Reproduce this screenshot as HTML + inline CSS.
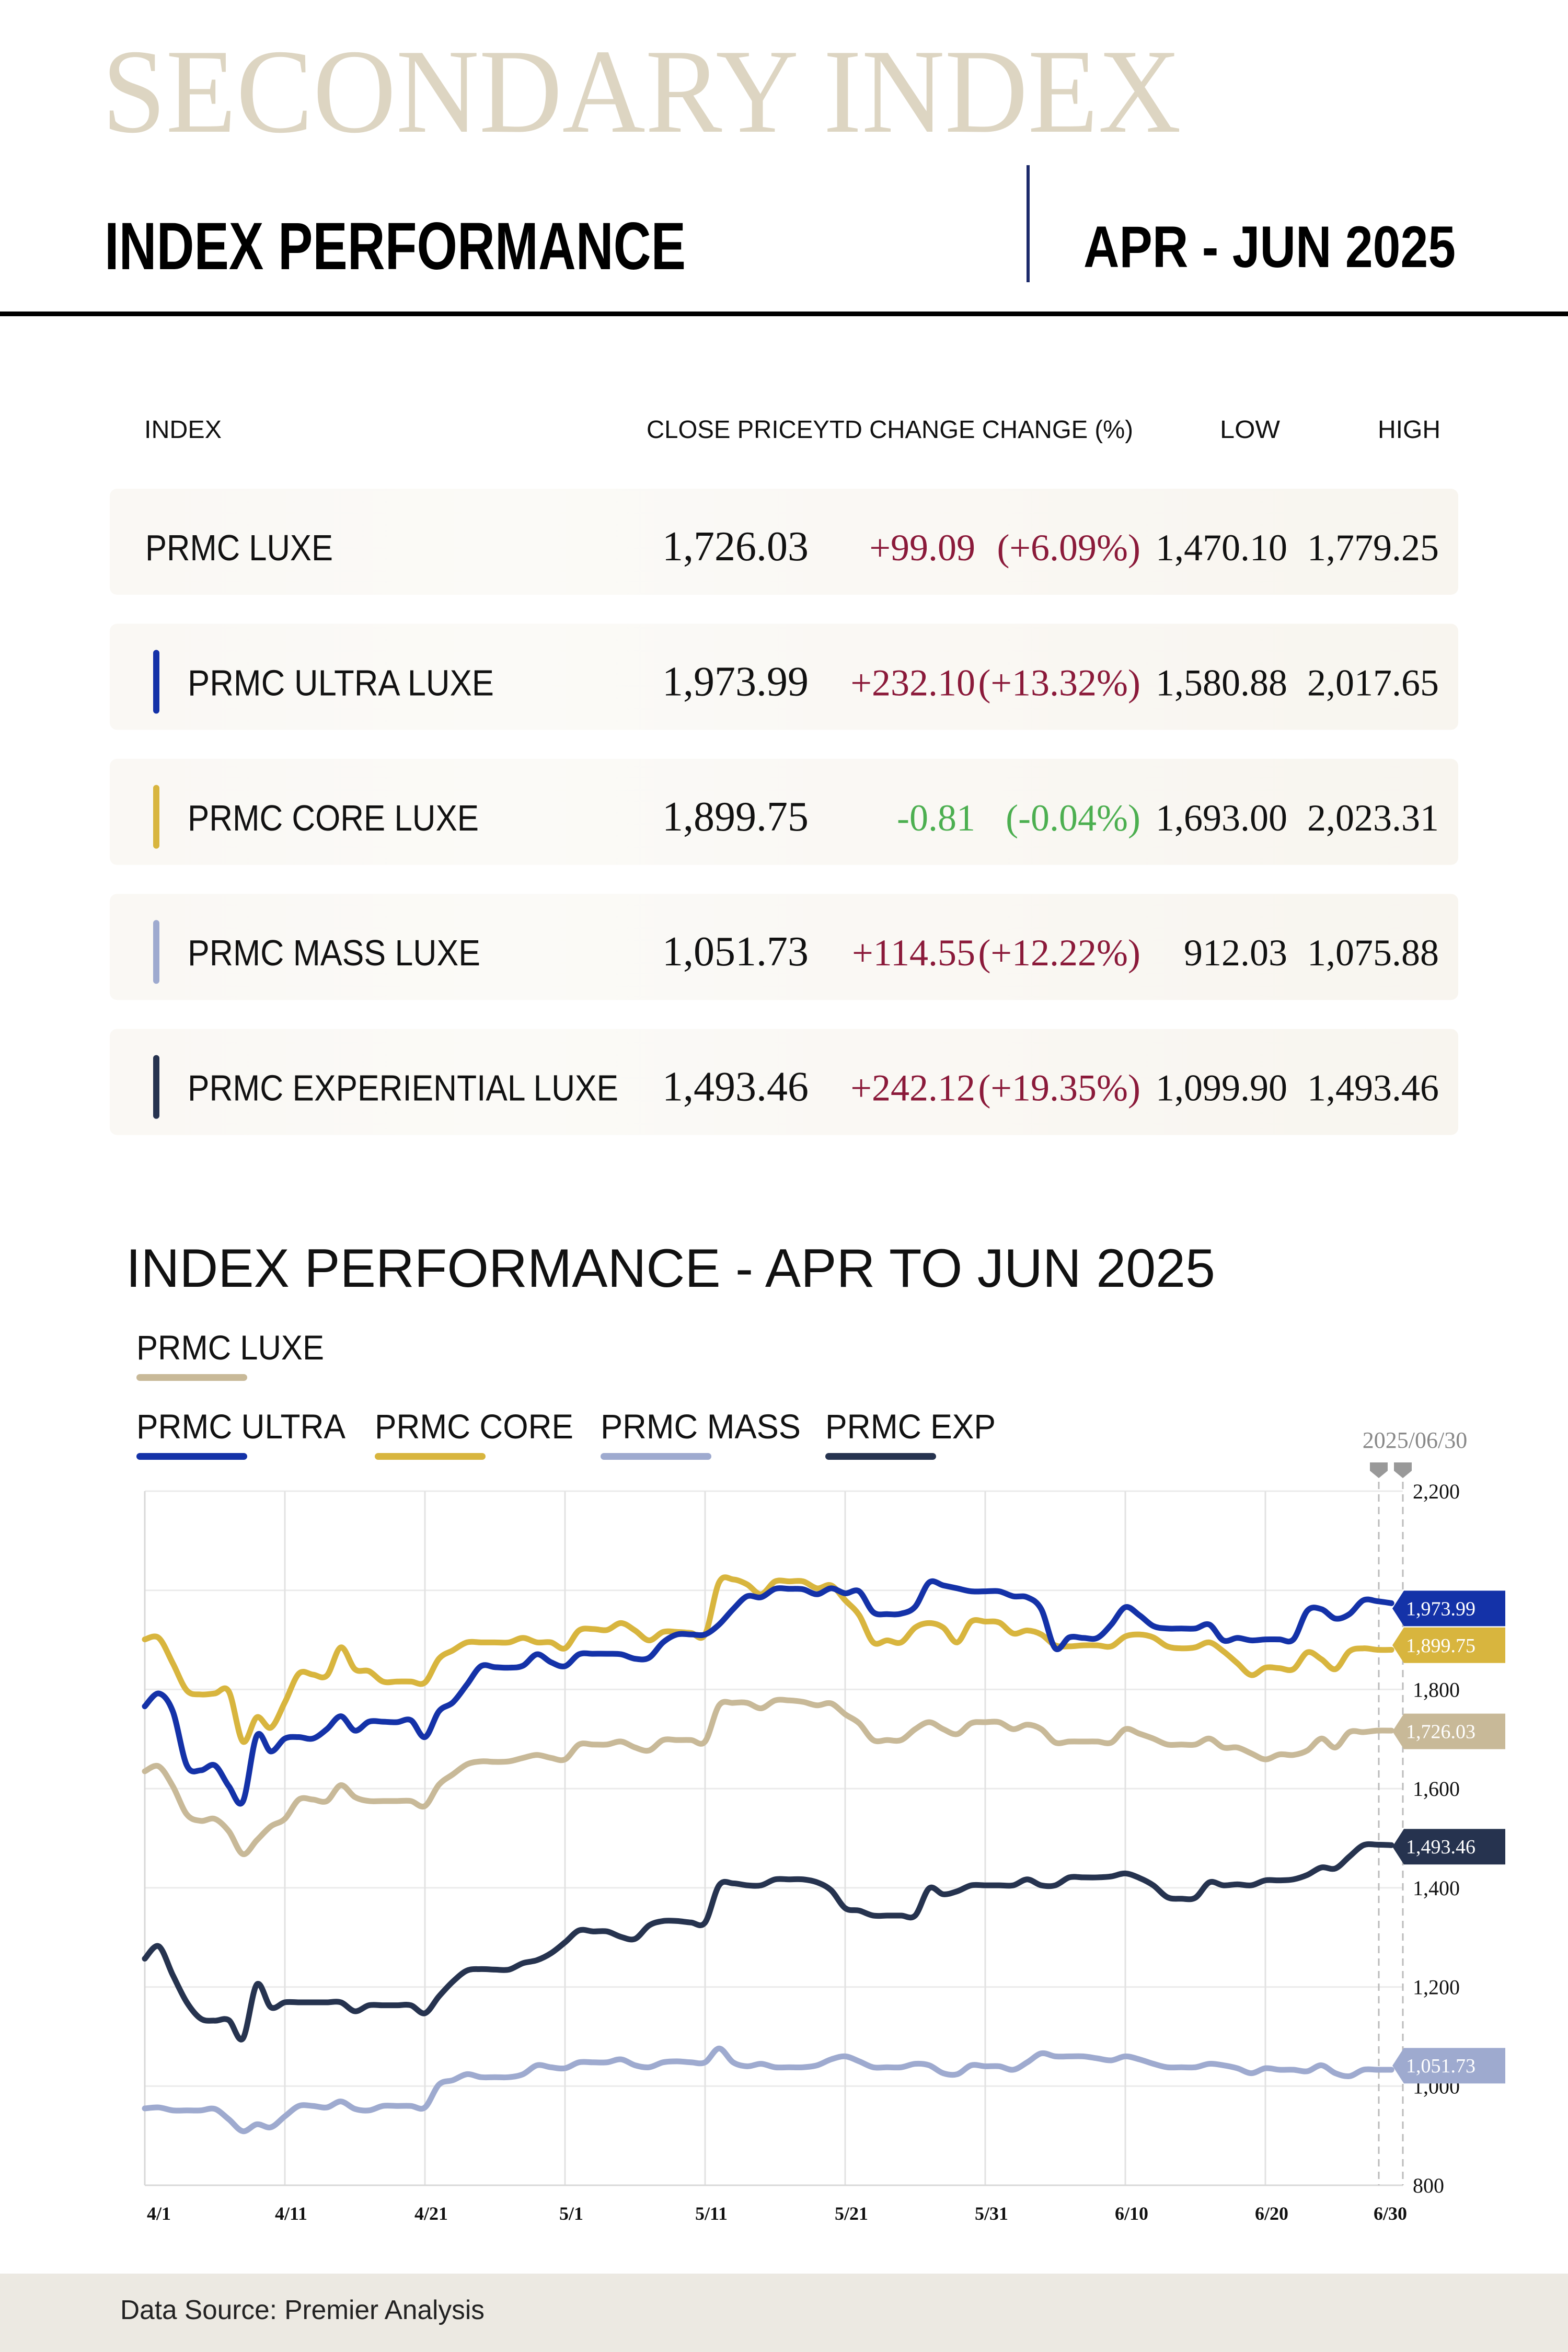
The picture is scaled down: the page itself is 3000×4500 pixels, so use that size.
<!DOCTYPE html>
<html><head><meta charset="utf-8"><style>
html,body{margin:0;padding:0;background:#fff;}
svg{display:block;}
.sans{font-family:"Liberation Sans",sans-serif;}
.serif{font-family:"Liberation Serif",serif;}
</style></head><body>
<svg id="page" width="3000" height="4500" viewBox="0 0 3000 4500" xmlns="http://www.w3.org/2000/svg">
<defs>
<linearGradient id="rowbg" x1="0" x2="1" y1="0" y2="0"><stop offset="0" stop-color="#faf8f4"/><stop offset="0.3" stop-color="#fbfaf7"/><stop offset="1" stop-color="#f8f5ef"/></linearGradient>
</defs>
<text class="serif" x="195" y="252" font-size="230" fill="#ddd5c2" textLength="2065" lengthAdjust="spacingAndGlyphs">SECONDARY INDEX</text>
<text class="sans" x="200" y="515" font-size="128" font-weight="bold" fill="#000" textLength="1112" lengthAdjust="spacingAndGlyphs">INDEX PERFORMANCE</text>
<rect x="1964" y="316" width="6" height="224" fill="#1c2a6b"/>
<text class="sans" x="2073" y="511" font-size="112" font-weight="bold" fill="#000" textLength="712" lengthAdjust="spacingAndGlyphs">APR - JUN 2025</text>
<rect x="0" y="596" width="3000" height="9" fill="#000"/>

<g class="sans" font-size="48" fill="#111">
<text x="276" y="838" textLength="148" lengthAdjust="spacingAndGlyphs">INDEX</text>
<text x="1237" y="838" textLength="931" lengthAdjust="spacingAndGlyphs">CLOSE PRICEYTD CHANGE CHANGE (%)</text>
<text x="2334" y="838" textLength="115" lengthAdjust="spacingAndGlyphs">LOW</text>
<text x="2636" y="838" textLength="120" lengthAdjust="spacingAndGlyphs">HIGH</text>
</g>
<g id="table"></g>

<text class="sans" x="241" y="2462" font-size="104" fill="#111" textLength="2084" lengthAdjust="spacingAndGlyphs">INDEX PERFORMANCE - APR TO JUN 2025</text>
<g id="legend"></g>
<g id="chart"></g>

<rect x="0" y="4350" width="3000" height="150" fill="#ece9e2"/>
<text class="sans" x="230" y="4437" font-size="52" fill="#222" textLength="697" lengthAdjust="spacingAndGlyphs">Data Source: Premier Analysis</text>
</svg>
<script>
// ---- table data ----
const rowNames = ["PRMC LUXE","PRMC ULTRA LUXE","PRMC CORE LUXE","PRMC MASS LUXE","PRMC EXPERIENTIAL LUXE"];
const rowClose = ["1,726.03","1,973.99","1,899.75","1,051.73","1,493.46"];
const rowYtd = ["+99.09","+232.10","-0.81","+114.55","+242.12"];
const rowPct = ["(+6.09%)","(+13.32%)","(-0.04%)","(+12.22%)","(+19.35%)"];
const rowLow = ["1,470.10","1,580.88","1,693.00","912.03","1,099.90"];
const rowHigh = ["1,779.25","2,017.65","2,023.31","1,075.88","1,493.46"];
const rowBar = [null,"#1432a8","#d8b53e","#9eaacf","#26334f"];
const rowNameW = [359,586,557,560,824];

// ---- chart data ----
const xTicks = ["4/1","4/11","4/21","5/1","5/11","5/21","5/31","6/10","6/20","6/30"];
const yTicks = [800,1000,1200,1400,1600,1800,2000,2200];
const yTickLabels = ["800","1,000","1,200","1,400","1,600","1,800","","2,200"];
const seriesNames = ["PRMC LUXE","PRMC ULTRA","PRMC CORE","PRMC MASS","PRMC EXP"];
const seriesColors = ["#c8b998","#1432a8","#d8b53e","#9eaacf","#26334f"];
const endLabels = ["1,726.03","1,973.99","1,899.75","1,051.73","1,493.46"];
const endValues = [1726.03,1973.99,1899.75,1051.73,1493.46];
const luxe = [1635,1645,1605,1548,1535,1539,1514,1468,1496,1524,1539,1578,1578,1575,1607,1583,1575,1575,1575,1575,1565,1608,1629,1649,1655,1654,1655,1662,1668,1662,1659,1689,1689,1689,1695,1683,1677,1698,1698,1698,1695,1768,1773,1773,1762,1778,1778,1775,1768,1772,1750,1732,1698,1698,1698,1720,1734,1720,1710,1732,1734,1734,1720,1729,1720,1693,1695,1695,1695,1693,1720,1711,1701,1689,1689,1689,1701,1683,1683,1671,1659,1669,1668,1677,1701,1683,1714,1714,1717,1717];
const ultra = [1766,1792,1756,1647,1637,1647,1605,1574,1707,1675,1701,1704,1701,1720,1746,1717,1735,1735,1734,1738,1704,1756,1774,1810,1847,1845,1844,1848,1871,1855,1847,1871,1872,1872,1871,1862,1864,1895,1911,1911,1911,1931,1962,1988,1986,2003,2003,2002,1992,2004,1994,1998,1956,1952,1953,1967,2016,2010,2004,1998,1998,1998,1988,1986,1962,1883,1905,1904,1904,1931,1966,1950,1928,1923,1923,1923,1931,1899,1904,1899,1901,1901,1901,1959,1962,1943,1952,1980,1978,1974];
const core = [1901,1904,1853,1798,1790,1792,1796,1695,1744,1723,1774,1832,1830,1828,1885,1841,1837,1816,1816,1816,1814,1862,1879,1895,1895,1895,1895,1904,1895,1895,1883,1919,1922,1920,1934,1919,1899,1916,1916,1914,1911,2016,2022,2012,1992,2018,2018,2018,2004,2010,1980,1950,1895,1899,1895,1925,1934,1925,1895,1937,1937,1935,1913,1919,1911,1889,1887,1889,1889,1887,1907,1911,1905,1887,1883,1885,1895,1877,1853,1829,1844,1843,1841,1875,1861,1841,1877,1883,1880,1880];
const mass = [955,957,951,951,951,954,933,909,923,917,939,960,960,957,969,954,951,960,960,960,957,1003,1012,1024,1018,1018,1018,1024,1042,1038,1036,1048,1048,1048,1054,1042,1038,1048,1050,1048,1048,1076,1048,1040,1045,1038,1038,1038,1042,1054,1060,1050,1038,1038,1038,1045,1042,1026,1024,1042,1040,1040,1033,1048,1066,1060,1060,1060,1056,1052,1060,1054,1045,1038,1038,1038,1045,1042,1036,1026,1036,1033,1033,1030,1042,1026,1020,1033,1033,1033];
const exp = [1257,1282,1224,1169,1136,1132,1133,1096,1205,1159,1169,1169,1169,1169,1169,1151,1163,1163,1163,1163,1147,1181,1211,1233,1236,1235,1235,1248,1254,1268,1290,1314,1312,1312,1301,1297,1324,1333,1333,1330,1330,1405,1409,1405,1405,1417,1417,1417,1411,1395,1359,1354,1344,1344,1344,1344,1399,1387,1393,1405,1405,1405,1405,1417,1405,1405,1421,1421,1421,1423,1429,1420,1405,1381,1378,1380,1411,1405,1407,1405,1415,1415,1417,1426,1441,1439,1463,1486,1487,1486];

const NS = "http://www.w3.org/2000/svg";
function mk(tag, attrs, parent, txt){
  const e = document.createElementNS(NS, tag);
  for (const k in attrs) e.setAttribute(k, attrs[k]);
  if (txt !== undefined) e.textContent = txt;
  parent.appendChild(e);
  return e;
}

// ---- table ----
const table = document.getElementById('table');
rowNames.forEach((n,i)=>{
  const cy = 1046 + i*258.4;
  const g = mk('g', {}, table);
  
  
  const bg = mk('rect', {x:210,y:cy-111,width:2580,height:203,rx:14,fill:'url(#rowbg)'}, g);
  
  
  let nx = 278;
  if (rowBar[i]) {
    nx = 359;
    const b = mk('rect', {x:293,y:cy-61,width:12,height:122,rx:6,fill:rowBar[i]}, g);
    
    
  }
  const by = cy + 26;
  const t1 = mk('text', {x:nx,y:by,'font-size':70,fill:'#111','class':'sans',textLength:rowNameW[i],lengthAdjust:'spacingAndGlyphs'}, g, n);
  
  
  const neg = rowYtd[i].startsWith('-');
  const col = neg ? '#4caf50' : '#8b1a3a';
  const t2 = mk('text', {x:1547,y:by,'font-size':80,fill:'#111','class':'serif','text-anchor':'end'}, g, rowClose[i]);
  
  
  const t3 = mk('text', {x:1866,y:by,'font-size':72,fill:col,'class':'serif','text-anchor':'end'}, g, rowYtd[i]);
  
  
  const t4 = mk('text', {x:2182,y:by,'font-size':72,fill:col,'class':'serif','text-anchor':'end'}, g, rowPct[i]);
  
  
  const t5 = mk('text', {x:2463,y:by,'font-size':72,fill:'#111','class':'serif','text-anchor':'end'}, g, rowLow[i]);
  
  
  const t6 = mk('text', {x:2753,y:by,'font-size':72,fill:'#111','class':'serif','text-anchor':'end'}, g, rowHigh[i]);
  
  
});

// ---- legend ----
const legend = document.getElementById('legend');
const legPos = [[261,2601,359],[261,2752,400],[717,2752,380],[1149,2752,383],[1579,2752,326]];
seriesNames.forEach((n,i)=>{
  const g = mk('g', {}, legend);
  
  
  const [x,y,w] = legPos[i];
  const t = mk('text', {x:x,y:y,'font-size':66,fill:'#111','class':'sans',textLength:w,lengthAdjust:'spacingAndGlyphs'}, g, n);
  
  
  const r = mk('rect', {x:x,y:y+28,width:212,height:13,rx:6.5,fill:seriesColors[i]}, g);
  
  
});

// ---- chart ----
const chart = document.getElementById('chart');
const X0 = 277, DX = 26.8, YB = 4181, YT = 2853, VMIN = 800, VMAX = 2200;
const xs = d => X0 + d*DX;
const ys = v => YB - (v - VMIN)/(VMAX - VMIN)*(YB - YT);

yTicks.forEach((v,i)=>{
  const l = mk('line', {x1:X0,x2:2684,y1:ys(v),y2:ys(v),stroke:'#ebebeb','stroke-width':3}, chart);
  
  
  if (yTickLabels[i]) {
    const t = mk('text', {x:2703,y:ys(v)+14,'font-size':40,fill:'#111','class':'serif'}, chart, yTickLabels[i]);
    
    
  }
});
xTicks.forEach((lab,i)=>{
  const x = xs(i*10);
  if (i < 9) {
    const l = mk('line', {x1:x,x2:x,y1:YT,y2:YB,stroke:i===0?'#d8d8d8':'#e2e2e2','stroke-width':3}, chart);
    
    
  }
  const t = mk('text', {x:i===9?2660:x+(i===0?4:12),y:4247,'font-size':36,'font-weight':'bold',fill:'#111','class':'serif','text-anchor':i===0?'start':'middle'}, chart, lab);
  
  
});
const axisB = mk('line', {x1:X0,x2:2684,y1:YB,y2:YB,stroke:'#d8d8d8','stroke-width':3}, chart);


[2638,2684].forEach(x=>{
  const l = mk('line', {x1:x,x2:x,y1:2835,y2:YB,stroke:'#bbb','stroke-width':3,'stroke-dasharray':'14 10'}, chart);
  
  
  const p = mk('path', {d:`M${x-17} 2798 h34 v16 l-17 14 l-17 -14 z`, fill:'#999'}, chart);
  
  
});
const dl = mk('text', {x:2707,y:2770,'font-size':44,fill:'#888','class':'serif','text-anchor':'middle'}, chart, '2025/06/30');



function smoothPath(vals){
  const pts = vals.map((v,i)=>[xs(i), ys(v)]);
  let d = `M${pts[0][0]},${pts[0][1]}`;
  for (let i=0;i<pts.length-1;i++){
    const p0 = pts[Math.max(0,i-1)], p1 = pts[i], p2 = pts[i+1], p3 = pts[Math.min(pts.length-1,i+2)];
    const c1x = p1[0]+(p2[0]-p0[0])/6, c1y = p1[1]+(p2[1]-p0[1])/6;
    const c2x = p2[0]-(p3[0]-p1[0])/6, c2y = p2[1]-(p3[1]-p1[1])/6;
    d += ` C${c1x},${c1y} ${c2x},${c2y} ${p2[0]},${p2[1]}`;
  }
  return d;
}
const seriesData = [luxe, ultra, core, mass, exp];
const drawOrder = [3,0,4,2,1];
drawOrder.forEach(i=>{
  const p = mk('path', {d:smoothPath(seriesData[i]), fill:'none', stroke:seriesColors[i], 'stroke-width':11, 'stroke-linejoin':'round','stroke-linecap':'round'}, chart);
  
  
});
endValues.forEach((v,i)=>{
  const cy = ys(v) + 10;
  const g = mk('g', {}, chart);
  
  
  const b = mk('path', {d:`M2664 ${cy} l22 -34 h194 v68 h-194 z`, fill:seriesColors[i]}, g);
  
  
  const t = mk('text', {x:2690,y:cy+13,'font-size':38,fill:'#fff','class':'serif'}, g, endLabels[i]);
  
  
});
</script>
</body></html>
